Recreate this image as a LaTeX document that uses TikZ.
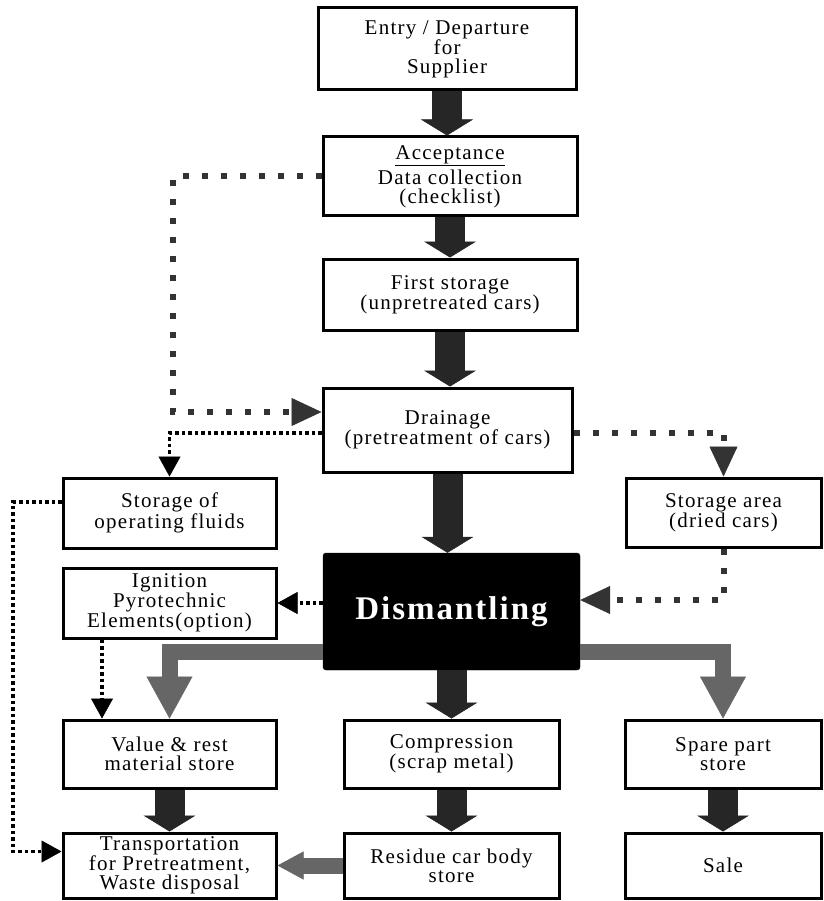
\documentclass[tikz,border=0pt]{standalone}
\usepackage{fontspec}
\setmainfont{Liberation Serif}[LetterSpace=6]
\usetikzlibrary{arrows.meta}

\begin{document}
\begin{tikzpicture}[x=1pt,y=-1pt,
  box/.style={draw,line width=3pt,fill=white,align=center,inner sep=0pt,font=\fontsize{21}{19}\selectfont},
  bigarrow/.style={line width=30pt,black!85,-{Triangle[width=52pt,length=16pt,line width=0.5pt]}},
  grayarrow/.style={line width=16pt,black!60,-{Triangle[width=46pt,length=42pt,line width=0.5pt]}},
  bigdots/.style={line width=6pt,black!80,dash pattern=on 6pt off 13pt,-{Triangle[width=28pt,length=30pt,line width=0.5pt]}},
  smalldots/.style={line width=3.5pt,black,dash pattern=on 3.5pt off 3pt,-{Triangle[width=22pt,length=20pt,line width=0.5pt]}}]

\useasboundingbox (0,0) rectangle (823,901);

\node[box,minimum width=258pt,minimum height=82pt] (entry) at (447,49) {Entry / Departure\\for\\Supplier};
\node[box,minimum width=254pt,minimum height=79pt] (accept) at (450,176.5) {\underline{Acceptance}\\[3pt]Data collection\\(checklist)};
\node[box,minimum width=254pt,minimum height=71pt] (first) at (450,294.5) {First storage\\(unpretreated cars)};
\node[box,minimum width=249pt,minimum height=84pt] (drain) at (447.5,430) {Drainage\\(pretreatment of cars)};
\node[box,minimum width=213pt,minimum height=70pt] (fluids) at (169.5,513) {Storage of\\operating fluids};
\node[box,minimum width=195pt,minimum height=69pt] (dried) at (723.5,512.5) {Storage area\\(dried cars)};
\node[draw,fill=black,rounded corners=3pt,text=white,inner sep=0pt,minimum width=257pt,minimum height=117pt,font=\bfseries\fontsize{33}{33}\selectfont] (dism) at (451.5,611.5) {Dismantling};
\node[box,minimum width=213pt,minimum height=70pt] (ignit) at (169.5,603) {Ignition\\Pyrotechnic\\Elements(option)};
\node[box,minimum width=213pt,minimum height=68pt] (value) at (169.5,754) {Value \& rest\\material store};
\node[box,minimum width=215pt,minimum height=68pt] (compr) at (451.5,754) {Compression\\(scrap metal)};
\node[box,minimum width=196pt,minimum height=68pt] (spare) at (723,754) {Spare part\\store};
\node[box,minimum width=213pt,minimum height=65pt] (trans) at (169.5,865.5) {Transportation\\for Pretreatment,\\Waste disposal};
\node[box,minimum width=215pt,minimum height=65pt] (resid) at (451.5,865.5) {Residue car body\\store};
\node[box,minimum width=196pt,minimum height=65pt] (sale) at (723,865.5) {Sale};

\coordinate (loopturn) at (173,412);
\coordinate (leftrail) at (13,0);
\coordinate (transin) at ([yshift=14pt]trans.west);

\draw[bigarrow] (entry.south) -- (entry.south |- accept.north);
\draw[bigarrow] (accept.south) -- (accept.south |- first.north);
\draw[bigarrow] (first.south) -- (first.south |- drain.north);
\draw[bigarrow] (drain.south) -- (drain.south |- dism.north);
\draw[bigarrow] (dism.south) -- (compr.north);
\draw[bigarrow] (value.south) -- (trans.north);
\draw[bigarrow] (compr.south) -- (resid.north);
\draw[bigarrow] (spare.south) -- (sale.north);

\draw[grayarrow] ([yshift=-40.5pt]dism.west) -| (value.north);
\draw[grayarrow] ([yshift=-40.5pt]dism.east) -| (spare.north);
\draw[grayarrow,-{Triangle[width=28pt,length=26pt,line width=0.5pt]}] (resid.west) -- (trans.east);

\draw[bigdots] (accept.west) -| (loopturn) -- (loopturn -| drain.west);
\draw[bigdots] ([yshift=-3pt]drain.east) -| (dried.north);
\draw[bigdots] (dried.south) |- ([yshift=11.5pt]dism.east);

\draw[smalldots] ([yshift=-3pt]drain.west) -| (fluids.north);
\draw[smalldots] (dism.west |- ignit.east) -- (ignit.east);
\draw[smalldots] ([xshift=-67.5pt]ignit.south) -- ([xshift=-67.5pt]value.north);
\draw[smalldots] ([yshift=11pt]fluids.west) -| (leftrail |- transin) -- (transin);

\end{tikzpicture}
\end{document}
